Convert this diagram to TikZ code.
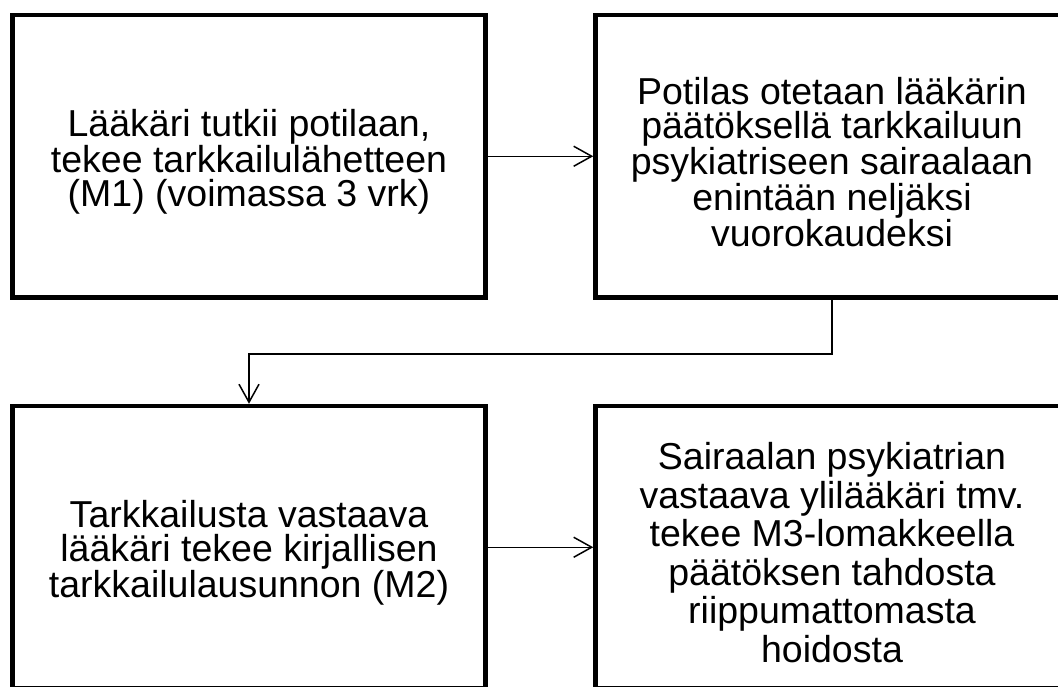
\documentclass[tikz,border=0pt]{standalone}
\usepackage{fontspec}
\setmainfont{Liberation Sans}
\usetikzlibrary{arrows.meta}
\tikzset{
  stagebox/.style={draw=black, line width=4.5pt, minimum width=473pt, minimum height=282.5pt, inner sep=0pt},
  stagetext/.style={align=center, inner sep=0pt, yshift=-5.5pt, font=\fontsize{37.5}{34.2}\selectfont},
  widetext/.style={stagetext, font=\fontsize{37.5}{38.5}\selectfont},
  flow/.style={line width=1.5pt, -{Straight Barb[length=18pt,width=20pt,line width=1.5pt]}}
}
\begin{document}
\begin{tikzpicture}[x=1pt,y=-1pt]
        \useasboundingbox (0,0) rectangle (1058,686);
        \clip (0,0) rectangle (1058,686);
        \node[stagebox, label={[stagetext]center:{Lääkäri tutkii potilaan,\\tekee tarkkailulähetteen\\(M1) (voimassa 3 vrk)}}] (m1) at (249,156.25) {};
        \node[stagebox, label={[stagetext]center:{Potilas otetaan lääkärin\\päätöksellä tarkkailuun\\psykiatriseen sairaalaan\\enintään neljäksi\\vuorokaudeksi}}] (obs) at (832,156.25) {};
        \node[stagebox, label={[stagetext]center:{Tarkkailusta vastaava\\lääkäri tekee kirjallisen\\tarkkailulausunnon (M2)}}] (m2) at (249,547.25) {};
        \node[stagebox, label={[widetext]center:{Sairaalan psykiatrian\\vastaava ylilääkäri tmv.\\tekee M3-lomakkeella\\päätöksen tahdosta\\riippumattomasta\\hoidosta}}] (m3) at (832,547.25) {};
        \draw[flow] (m1.east) -- (obs.west);
        \draw[flow] (obs.south) -- ++(0,54) -| (m2.north);
        \draw[flow] (m2.east) -- (m3.west);
\end{tikzpicture}
\end{document}
